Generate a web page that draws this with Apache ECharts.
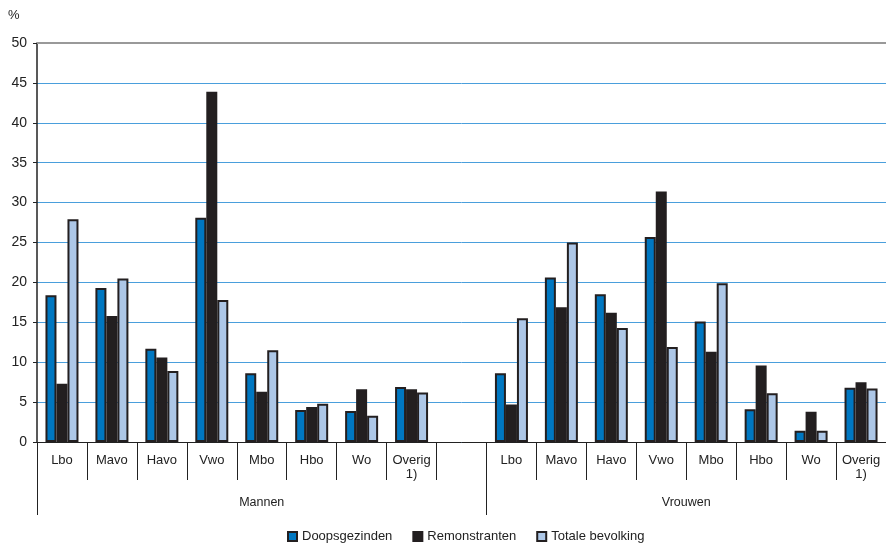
<!DOCTYPE html>
<html>
<head>
<meta charset="utf-8">
<script src="https://cdn.jsdelivr.net/npm/echarts@6/dist/echarts.min.js"></script>
<style>html,body{margin:0;padding:0;background:#fff}#c{width:886px;height:546px}</style>
</head>
<body>
<div id="c"></div>
<script>
var categories = ['Lbo','Mavo','Havo','Vwo','Mbo','Hbo','Wo','Overig\n1)','',
                  'Lbo','Mavo','Havo','Vwo','Mbo','Hbo','Wo','Overig\n1)'];
var groups = ['Mannen','Vrouwen'];
var groupCenters = [4.5, 13];
var groupBounds = [0, 9, 17];
var seriesNames = ['Doopsgezinden','Remonstranten','Totale bevolking'];
var doopsgezinden = [18.4,19.3,11.7,28.1,8.6,4.0,3.9,6.9,null, 8.6,20.6,18.5,25.7,15.1,4.1,1.4,6.8];
var remonstranten = [7.3,15.8,10.6,43.9,6.3,4.4,6.6,6.6,null, 4.7,16.9,16.2,31.4,11.3,9.6,3.8,7.5];
var totaleBevolking = [27.9,20.5,8.9,17.8,11.5,4.8,3.3,6.2,null, 15.5,25.0,14.3,11.9,19.9,6.1,1.4,6.7];
var yMax = 50;

var FONT = '"Liberation Sans", Arial, sans-serif';
var colors = ['#0077c1','#231f20','#adc7e7'];
var chart = echarts.init(document.getElementById('c'));
function bar(name, data, color) {
  return {
    name: name, type: 'bar', data: data, barWidth: 11, barGap: '0%',
    itemStyle: { color: color, borderColor: '#231f20', borderWidth: 2 }
  };
}
var s0 = bar(seriesNames[0], doopsgezinden, colors[0]);
s0.markLine = {
  silent: true, symbol: 'none', label: { show: false },
  lineStyle: { color: '#999999', width: 2, type: 'solid' },
  data: [{ yAxis: yMax }]
};
chart.setOption({
  animation: false,
  textStyle: { fontFamily: FONT },
  grid: { left: 37, right: -4, top: 43, bottom: 104 },
  graphic: [{ type: 'text', left: 8, top: 9, style: { text: '%', font: '13px ' + FONT, fill: '#222' } }],
  legend: {
    top: 525, left: 282, icon: 'rect', itemWidth: 9, itemHeight: 9, itemGap: 20,
    textStyle: { fontSize: 13, color: '#222', fontFamily: FONT },
    data: seriesNames
  },
  xAxis: [{
    type: 'category', data: categories, position: 'bottom',
    axisLine: { show: true, lineStyle: { color: '#222', width: 1 } },
    axisTick: { show: true, interval: 0, length: 38, lineStyle: { color: '#222' } },
    axisLabel: { interval: 0, margin: 11, fontSize: 13, color: '#222', lineHeight: 14, fontFamily: FONT }
  }, {
    type: 'value', min: 0, max: 17, position: 'bottom',
    axisLine: { show: false },
    splitLine: { show: false },
    axisTick: { show: true, length: 73, customValues: groupBounds, lineStyle: { color: '#222' } },
    axisLabel: {
      margin: 54, fontSize: 12.5, color: '#222', fontFamily: FONT, customValues: groupCenters,
      formatter: function (v) { var i = groupCenters.indexOf(v); return i >= 0 ? groups[i] : ''; }
    }
  }],
  yAxis: {
    type: 'value', min: 0, max: yMax, interval: 5,
    axisLine: { show: true, lineStyle: { color: '#222', width: 1.5 } },
    axisTick: { show: true, length: 4, lineStyle: { color: '#222' } },
    axisLabel: { fontSize: 14, color: '#222', margin: 10, fontFamily: FONT },
    splitLine: { show: true, lineStyle: { color: '#4a9fdc', width: 1 } }
  },
  series: [
    s0,
    bar(seriesNames[1], remonstranten, colors[1]),
    bar(seriesNames[2], totaleBevolking, colors[2])
  ]
});
</script>
</body>
</html>
